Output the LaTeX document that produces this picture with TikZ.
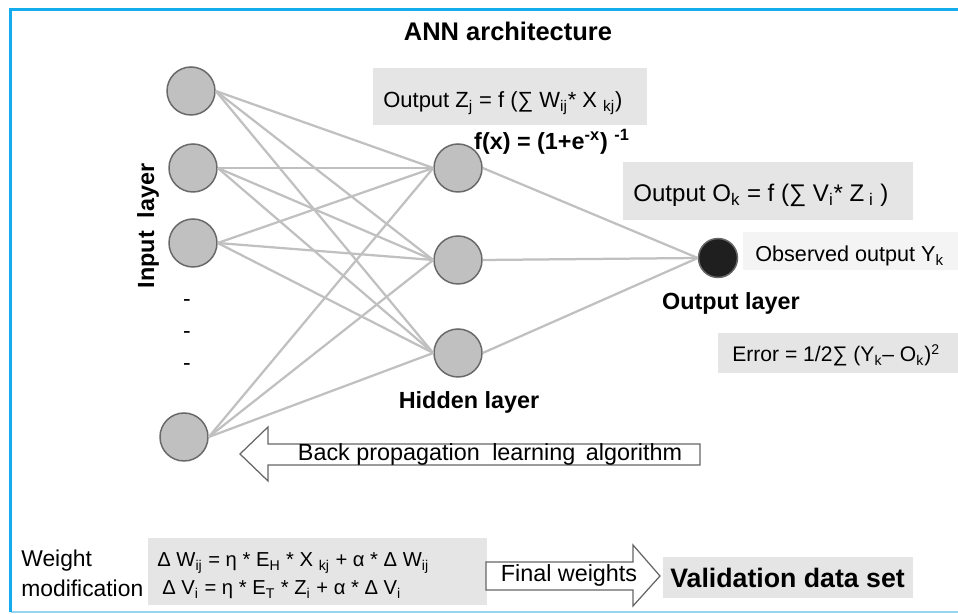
\documentclass[tikz,border=0pt]{standalone}
\usepackage{fontspec}
\setmainfont{Liberation Sans}
\usetikzlibrary{positioning}
\definecolor{framecyan}{RGB}{20,172,236}
\definecolor{framelight}{RGB}{150,212,240}
\definecolor{neurongray}{RGB}{192,192,192}
\definecolor{neuronedge}{RGB}{105,105,105}
\definecolor{linkgray}{RGB}{192,192,192}
\definecolor{boxgray}{RGB}{229,229,229}
\definecolor{boxlight}{RGB}{244,244,244}
\newcommand\fsz[1]{\fontsize{#1}{#1}\selectfont}

\begin{document}
\begin{tikzpicture}[x=0.02cm, y=-0.02cm,
  neuron/.style={circle, draw=neuronedge, fill=neurongray, line width=0.03cm,
    minimum size=0.96cm, inner sep=0pt},
  outneuron/.style={circle, draw=neuronedge, fill=black!88, line width=0.03cm,
    minimum size=0.78cm, inner sep=0pt},
  link/.style={linkgray, line width=0.045cm},
  formula/.style={fill=boxgray, inner sep=0pt},
  boxtext/.style={anchor=base west, inner sep=0pt},
  layerlabel/.style={font=\fsz{13.3}\bfseries},
  blockarrow/.style={draw=black!60, fill=white, line width=0.025cm}
]
  \useasboundingbox (0,0) rectangle (958,614);

  % frame
  \draw[framelight, line width=0.04cm] (10.5,612) -- (958,612);
  \draw[framecyan, line width=0.05cm] (10.5,612) -- (10.5,9.5) -- (958,9.5);

  \node[font=\fsz{14.5}\bfseries] (title) at (508,31) {ANN architecture};

  % layers
  \node[neuron] (in1) at (191,91) {};
  \node[neuron] (in2) at (193,168) {};
  \node[neuron] (in3) at (193,243) {};
  \node[neuron] (in4) at (184,437) {};
  \node[neuron] (hid1) at (458,168) {};
  \node[neuron] (hid2) at (458,260) {};
  \node[neuron] (hid3) at (458,353) {};
  \node[outneuron] (out) at (718,258) {};

  \foreach \i in {1,...,4}
    \foreach \j in {1,2,3}
      \draw[link] (in\i.east) -- (hid\j.west);
  \foreach \j in {1,2,3}
    \draw[link] (hid\j.east) -- (out.west);

  \node[layerlabel, rotate=90] (inlab) at (148,226) {Input\ \ layer};
  \foreach \y/\n in {303/1,335/2,367/3}
    \node[font=\fsz{13}] (dot\n) at (187,\y) {-};
  \node[layerlabel, anchor=base] (hidlab) at (469,409) {Hidden layer};
  \node[layerlabel, anchor=base] (outlab) at (731,310) {Output layer};

  % formulas
  \node[formula, minimum width=5.48cm, minimum height=1.14cm] (zbox) at (510,96.5) {};
  \node[boxtext, font=\fsz{12.5}] (ztext) at (383,108)
    {Output Z\textsubscript{j} = f (∑ W\textsubscript{ij}* X \textsubscript{kj})};
  \node[font=\fsz{13.3}\bfseries, anchor=base] (sigm) at (552,150)
    {f(x) = (1+e\textsuperscript{-x}) \textsuperscript{-1}};
  \node[formula, minimum width=5.8cm, minimum height=1.16cm] (obox) at (768,191) {};
  \node[boxtext, font=\fsz{13.7}] (otext) at (633,202)
    {Output O\textsubscript{k} = f (∑ V\textsubscript{i}* Z\textsubscript{ i} )};
  \node[formula, fill=boxlight, minimum width=4.4cm, minimum height=0.76cm] (ybox) at (853,251) {};
  \node[boxtext, font=\fsz{12.3}] (ytext) at (755,262) {Observed output Y\textsubscript{k}};
  \node[formula, minimum width=4.9cm, minimum height=0.8cm] (ebox) at (840,353) {};
  \node[boxtext, font=\fsz{12}] (etext) at (732,362)
    {Error = 1/2∑ (Y\textsubscript{k}– O\textsubscript{k})\textsuperscript{2}};

  % back propagation
  \draw[blockarrow] (240,454) -- (268,427) -- (268,444) -- (700,444) -- (700,465)
    -- (268,465) -- (268,481) -- cycle;
  \node[font=\fsz{13.3}, anchor=base] (bp) at (490,461)
    {Back propagation \hspace{0.12cm}learning \hspace{0.08cm}algorithm};

  % weight modification
  \node[boxtext, font=\fsz{13}] (wlab) at (21,567) {Weight};
  \node[boxtext, font=\fsz{13}] (mlab) at (21,597) {modification};
  \node[formula, minimum width=6.78cm, minimum height=1.34cm] (wbox) at (317.5,571.5) {};
  \node[boxtext, font=\fsz{11.5}] (eqw) at (157,567)
    {Δ W\textsubscript{ij} = η * E\textsubscript{H} * X \textsubscript{kj} + α * Δ W\textsubscript{ij}};
  \node[boxtext, font=\fsz{11.5}] (eqv) at (162,595)
    {Δ V\textsubscript{i} = η * E\textsubscript{T} * Z\textsubscript{i} + α * Δ V\textsubscript{i}};

  \draw[blockarrow] (486,562) -- (633,562) -- (633,545) -- (660,576) -- (633,606)
    -- (633,590) -- (486,590) -- cycle;
  \node[font=\fsz{13.3}, anchor=base] (fw) at (569,582) {Final weights};
  \node[formula, minimum width=5cm, minimum height=0.82cm] (val) at (788,577.5) {};
  \node[boxtext, font=\fsz{15.2}\bfseries] (valtext) at (670,588) {Validation data set};
\end{tikzpicture}
\end{document}
